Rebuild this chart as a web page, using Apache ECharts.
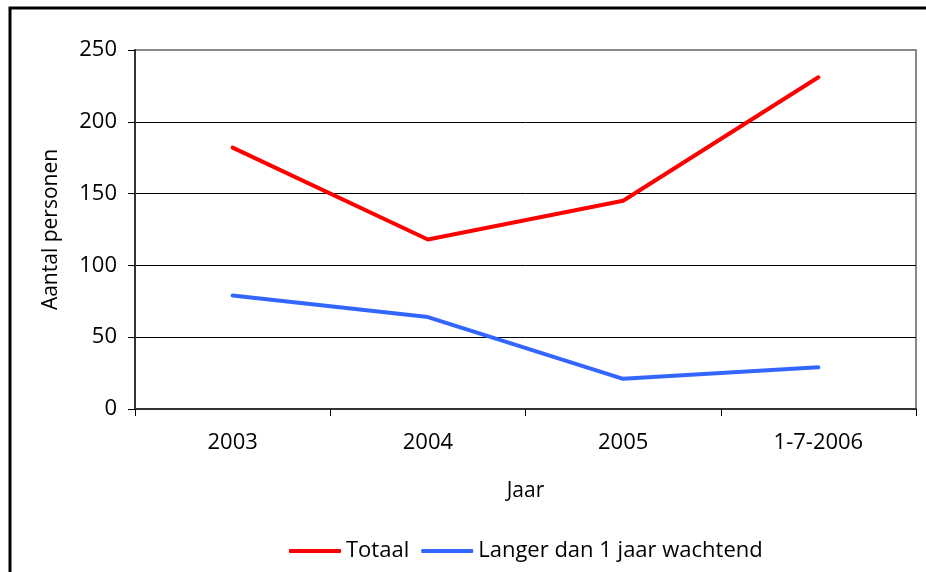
<!DOCTYPE html>
<html>
<head>
<meta charset="utf-8">
<script src="https://cdn.jsdelivr.net/npm/echarts@6/dist/echarts.min.js"></script>
<style>
  html, body { margin: 0; padding: 0; background: #fff; }
  #chart { width: 926px; height: 572px; }
</style>
</head>
<body>
<div id="chart"></div>
<script>
// categorieen en waarden
var jaren = ['2003', '2004', '2005', '1-7-2006']
var totaal = [182, 118, 145, 231]
var langer = [79, 64, 21, 29]
var yTicks = [0, 50, 100, 150, 200, 250]

var fontFam = 'Open Sans'
var chart = echarts.init(document.getElementById('chart'))
chart.setOption({
  animation: false,
  textStyle: { fontFamily: fontFam, color: '#000' },
  graphic: [
    {
      type: 'rect',
      shape: { x: 10, y: 8, width: 1000, height: 1000 },
      style: { fill: 'none', stroke: '#000', lineWidth: 3 }
    }
  ],
  grid: {
    left: 135,
    right: 10,
    top: 50,
    bottom: 163,
    show: true,
    borderColor: '#888',
    borderWidth: 2
  },
  legend: {
    left: 284,
    top: 535,
    icon: 'roundRect',
    itemWidth: 52,
    itemHeight: 4,
    itemGap: 12,
    textStyle: { fontSize: 22, color: '#000', fontFamily: fontFam },
    data: ['Totaal', 'Langer dan 1 jaar wachtend']
  },
  xAxis: {
    type: 'category',
    data: jaren,
    boundaryGap: true,
    name: 'Jaar',
    nameLocation: 'middle',
    nameGap: 72,
    nameTextStyle: { fontSize: 21, color: '#000' },
    axisLine: { lineStyle: { color: '#333', width: 2 } },
    axisTick: { show: true, inside: false, length: 7, lineStyle: { color: '#000' } },
    axisLabel: { fontSize: 22, color: '#000', margin: 23 }
  },
  yAxis: {
    type: 'value',
    min: yTicks[0],
    max: yTicks[yTicks.length - 1],
    interval: 50,
    name: 'Aantal personen',
    nameLocation: 'middle',
    nameGap: 73,
    nameRotate: 90,
    nameTextStyle: { fontSize: 21, color: '#000' },
    axisLine: { show: true, lineStyle: { color: '#333', width: 2 } },
    axisTick: { show: true, inside: false, length: 7, lineStyle: { color: '#000' } },
    axisLabel: { fontSize: 22, color: '#000', margin: 18 },
    splitLine: {
      show: true,
      lineStyle: { color: ['#000', '#000', '#000', '#000', '#000', '#888'], width: 1 }
    }
  },
  series: [
    {
      name: 'Totaal',
      type: 'line',
      data: totaal,
      symbol: 'none',
      color: '#ff0000',
      lineStyle: { width: 4, color: '#ff0000', cap: 'round' }
    },
    {
      name: 'Langer dan 1 jaar wachtend',
      type: 'line',
      data: langer,
      symbol: 'none',
      color: '#3366ff',
      lineStyle: { width: 4, color: '#3366ff', cap: 'round' }
    }
  ]
})
</script>
</body>
</html>
